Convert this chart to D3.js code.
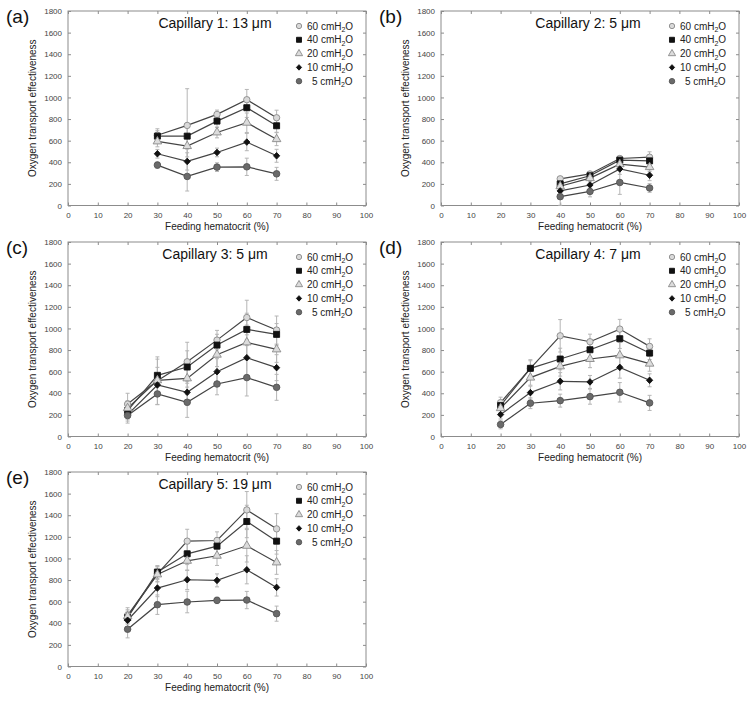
<!DOCTYPE html>
<html><head><meta charset="utf-8">
<script src="https://cdn.jsdelivr.net/npm/d3@7"></script>
<style>
body{margin:0;background:#fff;}
svg{display:block;font-family:"Liberation Sans",Arial,sans-serif;}
</style></head>
<body><svg id="c" width="751" height="701"></svg>
<script>
// ---------- data ----------
const pressures = ["60", "40", "20", "10", "5"];
const xTicks = [0,10,20,30,40,50,60,70,80,90,100];
const yTicks = [0,200,400,600,800,1000,1200,1400,1600,1800];

// Panel (a) Capillary 1: 13 µm
const hctA = [30,40,50,60,70];
const a60 = [650, 741, 843, 979, 812];
const a40 = [642, 642, 781, 905, 738];
const a20 = [593, 550, 676, 766, 614];
const a10 = [479, 408, 491, 587, 460];
const a5  = [374, 269, 355, 358, 293];
const a60e = [60, 340, 40, 95, 70];
const a40e = [50, 120, 60, 90, 60];
const a20e = [50, 100, 50, 90, 60];
const a10e = [40, 80, 40, 80, 60];
const a5e  = [30, 135, 40, 80, 60];

// Panel (b) Capillary 2: 5 µm
const hctB = [40,50,60,70];
const b60 = [247, 292, 435, 447];
const b40 = [200, 275, 420, 413];
const b20 = [178, 253, 382, 355];
const b10 = [135, 190, 338, 280];
const b5  = [82, 130, 213, 162];
const b60e = [20, 20, 20, 50];
const b40e = [20, 20, 20, 40];
const b20e = [20, 20, 30, 40];
const b10e = [30, 30, 50, 50];
const b5e  = [80, 50, 110, 40];

// Panel (c) Capillary 3: 5 µm
const hctC = [20,30,40,50,60,70];
const c60 = [300, 517, 692, 892, 1101, 985];
const c40 = [240, 566, 643, 846, 991, 945];
const c20 = [262, 520, 538, 757, 871, 806];
const c10 = [203, 477, 409, 600, 729, 637];
const c5  = [194, 394, 317, 486, 545, 455];
const c60e = [100, 220, 180, 90, 160, 130];
const c40e = [80, 150, 150, 100, 150, 100];
const c20e = [70, 120, 150, 110, 160, 120];
const c10e = [60, 100, 120, 120, 170, 120];
const c5e  = [70, 100, 140, 100, 170, 120];

// Panel (d) Capillary 4: 7 µm
const hctD = [20,30,40,50,60,70];
const d60 = [314, 631, 932, 877, 994, 834];
const d40 = [286, 631, 717, 803, 905, 772];
const d20 = [262, 545, 649, 717, 751, 674];
const d10 = [203, 406, 511, 505, 640, 520];
const d5  = [111, 308, 332, 369, 409, 311];
const d60e = [50, 80, 150, 70, 90, 70];
const d40e = [40, 70, 100, 80, 90, 60];
const d20e = [40, 70, 90, 80, 120, 70];
const d10e = [40, 60, 80, 60, 100, 60];
const d5e  = [40, 50, 60, 70, 90, 70];

// Panel (e) Capillary 5: 19 µm
const hctE = [20,30,40,50,60,70];
const e60 = [474, 858, 1160, 1166, 1449, 1274];
const e40 = [452, 874, 1043, 1114, 1342, 1160];
const e20 = [465, 852, 978, 1025, 1117, 963];
const e10 = [428, 726, 803, 797, 895, 732];
const e5  = [345, 572, 597, 612, 615, 489];
const e60e = [70, 70, 110, 80, 170, 140];
const e40e = [60, 60, 100, 80, 150, 120];
const e20e = [60, 70, 90, 90, 150, 110];
const e10e = [60, 80, 90, 60, 130, 80];
const e5e  = [80, 90, 100, 30, 80, 70];

const panels = [
  {letter:"(a)", cap:"Capillary 1: 13 \u03bcm", x:hctA, s:[a60,a40,a20,a10,a5], e:[a60e,a40e,a20e,a10e,a5e], col:0,row:0},
  {letter:"(b)", cap:"Capillary 2: 5 \u03bcm",  x:hctB, s:[b60,b40,b20,b10,b5], e:[b60e,b40e,b20e,b10e,b5e], col:1,row:0},
  {letter:"(c)", cap:"Capillary 3: 5 \u03bcm",  x:hctC, s:[c60,c40,c20,c10,c5], e:[c60e,c40e,c20e,c10e,c5e], col:0,row:1},
  {letter:"(d)", cap:"Capillary 4: 7 \u03bcm",  x:hctD, s:[d60,d40,d20,d10,d5], e:[d60e,d40e,d20e,d10e,d5e], col:1,row:1},
  {letter:"(e)", cap:"Capillary 5: 19 \u03bcm", x:hctE, s:[e60,e40,e20,e10,e5], e:[e60e,e40e,e20e,e10e,e5e], col:0,row:2}
];

// ---------- styles ----------
// small "fat" diamond for the 10 cmH2O series
const fatDiamond = { draw(ctx, size) {
  const r = Math.sqrt(size) * 0.62;
  ctx.moveTo(0,-r); ctx.lineTo(r*0.95,0); ctx.lineTo(0,r); ctx.lineTo(-r*0.95,0); ctx.closePath();
}};
const markerStyle = [
  {type:d3.symbolCircle,   size:32, fill:"#d9d9d9", stroke:"#8a8a8a"},
  {type:d3.symbolSquare,   size:36, fill:"#111",    stroke:"#111"},
  {type:d3.symbolTriangle, size:32, fill:"#dcdcdc", stroke:"#8a8a8a"},
  {type:fatDiamond,        size:28, fill:"#111",    stroke:"#111"},
  {type:d3.symbolCircle,   size:34, fill:"#6a6a6a", stroke:"#555"}
];

const colX = [68, 441], rowY = [11, 242, 472];
const W = 298, H = 194.5;
const svg = d3.select("#c");

panels.forEach(p => {
  const x0 = colX[p.col], y0 = rowY[p.row];
  const g = svg.append("g").attr("transform", `translate(${x0},${y0})`);
  const xs = d3.scaleLinear().domain([0,100]).range([0,W]);
  const ys = d3.scaleLinear().domain([0,1800]).range([H,0]);

  // frame
  g.append("rect").attr("width",W).attr("height",H).attr("fill","none").attr("stroke","#8c8c8c").attr("stroke-width",1);

  const axStyle = sel => {
    sel.select(".domain").remove();
    sel.selectAll(".tick line").attr("stroke","#8c8c8c");
    sel.selectAll(".tick text").attr("fill","#444").attr("font-size","8px");
  };
  g.append("g").attr("transform",`translate(0,${H})`)
    .call(d3.axisBottom(xs).tickValues(xTicks).tickSize(-3).tickPadding(7).tickFormat(d3.format("d"))).call(axStyle);
  g.append("g").call(d3.axisTop(xs).tickValues(xTicks).tickSize(-3).tickFormat("")).call(axStyle);
  g.append("g").call(d3.axisLeft(ys).tickValues(yTicks).tickSize(-3).tickPadding(6).tickFormat(d3.format("d"))).call(axStyle);
  g.append("g").attr("transform",`translate(${W},0)`)
    .call(d3.axisRight(ys).tickValues(yTicks).tickSize(-3).tickFormat("")).call(axStyle);

  // axis titles
  g.append("text").attr("x",W/2).attr("y",H+24).attr("text-anchor","middle")
    .attr("font-size","10px").attr("fill","#222").text("Feeding hematocrit (%)");
  g.append("text").attr("transform",`translate(-32,${H/2}) rotate(-90)`).attr("text-anchor","middle")
    .attr("font-size","10px").attr("fill","#222").text("Oxygen transport effectiveness");

  // panel letter
  svg.append("text").attr("x", x0-62).attr("y", y0+12).attr("font-size","19px").attr("fill","#111").text(p.letter);

  // caption
  g.append("text").attr("x",W/2-2).attr("y",17).attr("text-anchor","middle")
    .attr("font-size","14px").attr("fill","#111").text(p.cap);

  // error bars
  p.s.forEach((vals, si) => {
    const errs = p.e[si];
    vals.forEach((v,i) => {
      const cx = xs(p.x[i]);
      const top = ys(v + errs[i]), bot = ys(Math.max(0, v - errs[i]));
      g.append("line").attr("x1",cx).attr("x2",cx).attr("y1",top).attr("y2",bot)
        .attr("stroke","#b5b5b5").attr("stroke-width",1);
      [top,bot].forEach(yy => g.append("line").attr("x1",cx-2).attr("x2",cx+2).attr("y1",yy).attr("y2",yy)
        .attr("stroke","#b5b5b5").attr("stroke-width",1));
    });
  });

  // lines and markers
  const line = d3.line().x(d=>xs(d[0])).y(d=>ys(d[1]));
  p.s.forEach((vals, si) => {
    const pts = vals.map((v,i)=>[p.x[i], v]);
    g.append("path").attr("d", line(pts)).attr("fill","none").attr("stroke","#444").attr("stroke-width",1.2);
  });
  p.s.forEach((vals, si) => {
    const ms = markerStyle[si];
    const sym = d3.symbol().type(ms.type).size(ms.size);
    vals.forEach((v,i) => {
      g.append("path").attr("d", sym()).attr("transform",`translate(${xs(p.x[i])},${ys(v)})`)
        .attr("fill",ms.fill).attr("stroke",ms.stroke).attr("stroke-width",0.9);
    });
  });

  // legend
  const lg = g.append("g").attr("transform","translate(231,15)");
  pressures.forEach((pr, i) => {
    const ms = markerStyle[i];
    const yy = i*13.8;
    lg.append("path").attr("d", d3.symbol().type(ms.type).size(ms.size*0.7)())
      .attr("transform",`translate(0,${yy})`).attr("fill",ms.fill).attr("stroke",ms.stroke).attr("stroke-width",0.9);
    const t = lg.append("text").attr("x", pr.length===1 ? 13 : 8).attr("y", yy+3.5)
      .attr("font-size","10px").attr("fill","#222");
    t.append("tspan").text(pr + " cmH");
    t.append("tspan").attr("font-size","7px").attr("dy","2.5").text("2");
    t.append("tspan").attr("dy","-2.5").text("O");
  });
});
</script></body></html>
